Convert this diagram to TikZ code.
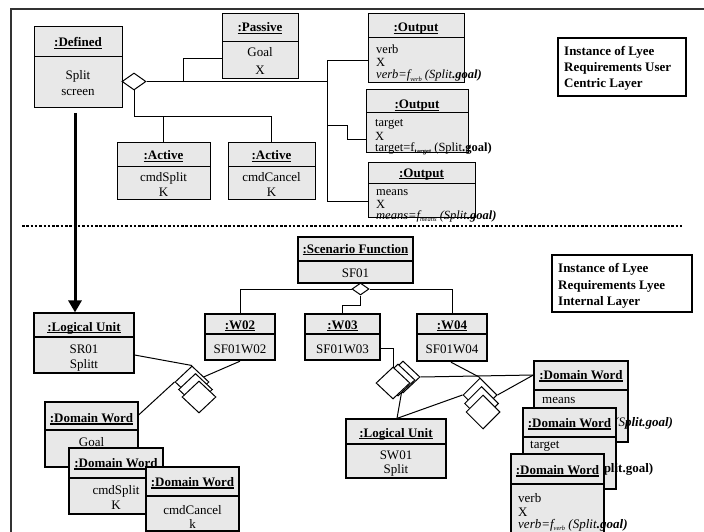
\documentclass[tikz,border=0pt]{standalone}
\usepackage{fontspec}
\setmainfont{Liberation Serif}
\usetikzlibrary{shapes.geometric,arrows.meta,fit,backgrounds}
\definecolor{boxgray}{RGB}{232,232,232}
\newcommand{\uln}[1]{\setbox0=\hbox{#1}\rlap{\rule[-2.2pt]{\wd0}{0.8pt}}\box0}
\newcommand{\thul}[1]{\setbox0=\hbox{#1}\rlap{\rule[-3pt]{\wd0}{1.6pt}}\box0}
\newcommand{\subs}[1]{\raisebox{-2.5pt}{\fontsize{6.5}{7}\selectfont #1}}
\newcommand{\objbox}[9]{%
  \node[#1, fit={(#3,#4) (#5,#6)}] (#2) {};
  \draw[#1 div] (#3,#7) -- (#5,#7);
  \node[ttl] (#2-t) at ({(#3+#5)/2},#8) {#9};
}
\tikzset{
  plainbox/.style={draw, fill=boxgray, line width=1pt, inner sep=0pt},
  plainbox div/.style={line width=1pt},
  lubox/.style={draw, fill=boxgray, line width=1.2pt, inner sep=0pt},
  lubox div/.style={line width=1.6pt},
  boldbox/.style={draw, fill=boxgray, line width=2.4pt, inner sep=0pt},
  boldbox div/.style={line width=2.8pt},
  dwbox/.style={draw, fill=boxgray, line width=1.2pt, inner sep=0pt},
  dwbox div/.style={line width=2pt},
  ttl/.style={inner sep=0pt, anchor=base, font=\fontsize{13}{15}\selectfont\bfseries},
  txt/.style={inner sep=0pt, anchor=base, font=\fontsize{13}{15}\selectfont},
  ltxt/.style={txt, anchor=base west},
  stxt/.style={inner sep=0pt, anchor=base west, font=\fontsize{12.5}{14}\selectfont},
  lbl/.style={draw, fill=white, line width=1.2pt, inner sep=0pt},
  lbltxt/.style={inner sep=0pt, anchor=base west, font=\fontsize{13}{15}\selectfont\bfseries},
  conn/.style={line width=1pt},
  dia/.style={diamond, draw, fill=white, line width=1pt, inner sep=0pt},
}
\begin{document}
\begin{tikzpicture}[x=1pt,y=-1pt]
\useasboundingbox (0,0) rectangle (704,532);

% ---------- upper layer ----------
\objbox{plainbox}{defd}{34}{27}{122}{108}{57}{47}{\uln{:Defined}}
\node[txt] (defd-b1) at (78,80) {Split};
\node[txt] (defd-b2) at (78,96) {screen};

\objbox{plainbox}{pas}{222}{14}{298}{79}{42}{32}{\uln{:Passive}}
\node[txt] (pas-b1) at (260,57) {Goal};
\node[txt] (pas-b2) at (260,75) {X};

\objbox{plainbox}{out1}{368}{14}{464}{83}{38}{32}{\uln{:Output}}
\node[stxt] (out1-b1) at (376,54) {verb};
\node[stxt] (out1-b2) at (376,67) {X};
\node[stxt] (out1-b3) at (376,79) {\textit{verb=f\subs{verb} (Split}\textbf{\textit{.goal)}}};

\objbox{plainbox}{out2}{366}{90}{468}{153}{113}{109}{\uln{:Output}}
\node[stxt] (out2-b1) at (375,127) {target};
\node[stxt] (out2-b2) at (375,140) {X};
\node[stxt] (out2-b3) at (375,151) {target=f\subs{\textbf{target}} (Split\textbf{.goal)}};

\objbox{plainbox}{out3}{368}{162}{475}{217}{183}{177}{\uln{:Output}}
\node[stxt] (out3-b1) at (376,195) {means};
\node[stxt] (out3-b2) at (376,208) {X};
\node[stxt] (out3-b3) at (376,219) {\textit{means=f\subs{means} (Split}\textbf{\textit{.goal)}}};

\objbox{plainbox}{act1}{117}{143}{210}{199}{166}{160}{\uln{:Active}}
\node[txt] (act1-b1) at (163.5,181) {cmdSplit};
\node[txt] (act1-b2) at (163.5,196) {K};

\objbox{plainbox}{act2}{228}{143}{315}{199}{166}{160}{\uln{:Active}}
\node[txt] (act2-b1) at (271.5,181) {cmdCancel};
\node[txt] (act2-b2) at (271.5,196) {K};

\node[lbl, fit={(558,38) (686,96)}] (lab1) {};
\node[lbltxt] (lab1-a) at (564,56) {Instance of Lyee};
\node[lbltxt] (lab1-b) at (564,72) {Requirements User};
\node[lbltxt] (lab1-c) at (564,88) {Centric Layer};

\node[dia, minimum width=24pt, minimum height=17pt] (dd) at (134,81.5) {};

% ---------- lower layer ----------
\objbox{boldbox}{sf}{298}{237}{413}{283}{261}{253}{\uln{:Scenario Function}}
\node[txt] (sf-b1) at (355.5,277) {SF01};

\objbox{boldbox}{w02}{205}{314}{275}{360}{334}{329}{\uln{:W02}}
\node[txt] (w02-b1) at (240,353) {SF01W02};
\objbox{boldbox}{w03}{305}{314}{380}{360}{334}{329}{\uln{:W03}}
\node[txt] (w03-b1) at (342.5,353) {SF01W03};
\objbox{boldbox}{w04}{417}{314}{487}{361}{334}{329}{\uln{:W04}}
\node[txt] (w04-b1) at (452,353) {SF01W04};

\node[dia, minimum width=17pt, minimum height=12pt] (sfd) at (360.5,289) {};

\node[lbl, fit={(552,255) (692,312)}] (lab2) {};
\node[lbltxt] (lab2-a) at (558,272) {Instance of Lyee};
\node[lbltxt] (lab2-b) at (558,289) {Requirements Lyee};
\node[lbltxt] (lab2-c) at (558,305) {Internal Layer};

\objbox{lubox}{lu1}{34}{313}{134}{373}{337}{331}{\uln{:Logical Unit}}
\node[txt] (lu1-b1) at (84,353) {SR01};
\node[txt] (lu1-b2) at (84,368) {Splitt};

\objbox{lubox}{lu2}{346}{419}{446}{478}{444}{437}{\uln{:Logical Unit}}
\node[txt] (lu2-b1) at (396,459) {SW01};
\node[txt] (lu2-b2) at (396,473) {Split};

\objbox{dwbox}{dw1}{45}{402}{138}{467}{430}{422}{\thul{:Domain Word}}
\node[txt] (dw1-b1) at (91.5,446) {Goal};
\objbox{dwbox}{dw2}{69}{448}{163}{514}{478}{467}{\thul{:Domain Word}}
\node[txt] (dw2-b1) at (116,494) {cmdSplit};
\node[txt] (dw2-b2) at (116,509) {K};
\objbox{dwbox}{dw3}{146}{467}{239}{531}{496}{486}{\thul{:Domain Word}}
\node[txt] (dw3-b1) at (192.5,514) {cmdCancel};
\node[txt] (dw3-b2) at (192.5,528.5) {k};

\objbox{dwbox}{dwm}{534}{361}{628}{442}{390}{379}{\thul{:Domain Word}}
\node[ltxt] (dwm-b1) at (542,403) {means};
\node[ltxt] (dwm-b3) at (614,426) {\textit{(S}\textbf{\textit{plit.goal)}}};
\objbox{dwbox}{dwt}{523}{408}{616}{489}{437}{427}{\thul{:Domain Word}}
\node[ltxt] (dwt-b1) at (530,448) {target};
\node[ltxt] (dwt-b3) at (592,472) {(S\textbf{plit.goal)}};
\objbox{dwbox}{dwv}{511}{454}{604}{540}{484}{474}{\thul{:Domain Word}}
\node[ltxt] (dwv-b1) at (518,502) {verb};
\node[ltxt] (dwv-b2) at (518,516) {X};
\node[ltxt] (dwv-b3) at (518,528) {\textit{verb=f\subs{verb} (Split}\textbf{\textit{.goal)}}};

% aggregation diamond clusters
\node[dia, minimum width=34pt, minimum height=32pt] (ca1) at (192,382) {};
\node[dia, minimum width=34pt, minimum height=32pt] (ca2) at (195.5,389.5) {};
\node[dia, minimum width=34pt, minimum height=32pt] (ca3) at (199,397) {};

\node[dia, minimum width=34pt, minimum height=32pt] (cb1) at (403,377) {};
\node[dia, minimum width=34pt, minimum height=32pt] (cb2) at (398,380) {};
\node[dia, minimum width=34pt, minimum height=32pt] (cb3) at (393,383) {};

\node[dia, minimum width=34pt, minimum height=34pt] (cc1) at (480,395) {};
\node[dia, minimum width=34pt, minimum height=34pt] (cc2) at (481.5,403.5) {};
\node[dia, minimum width=34pt, minimum height=34pt] (cc3) at (483,412) {};

% ---------- connectors (behind) ----------
\begin{pgfonlayer}{background}
\coordinate (frTL) at (11,9);
\coordinate (frTR) at (704,9);
\coordinate (frBL) at (11,532);
\draw[line width=1.5pt, black!80] (frTR) -- (frTL) -- (frBL);
\coordinate (dotL) at (22,226);
\coordinate (dotR) at (682,226);
\draw[line width=2pt, dash pattern=on 2.5pt off 1.8pt] (dotL) -- (dotR);

\draw[conn] (dd.east) -- (327,81.5) -- (327,61) -- (out1.west |- 0,61);
\draw[conn] (327,61) -- (327,201) -- (out3.west |- 0,201);
\draw[conn] (327,126) -- (347,126) -- (347,140) -- (out2.west |- 0,140);
\draw[conn] (183,81.5) -- (183,59) -- (pas.west |- 0,59);
\draw[conn] (dd.south) |- (act2.north |- 0,117) -- (act2.north);
\draw[conn] (act1.north) -- (act1.north |- 0,117);

\coordinate (arrS) at (75,113);
\draw[line width=3pt, -{Triangle[width=13pt,length=12pt]}] (arrS) -- (lu1.north -| arrS);

\draw[conn] (sfd.west) -| (w02.north);
\draw[conn] (sfd.east) -| (w04.north);
\draw[conn] (sfd.south) -- (360.5,305) -| (w03.north);

\draw[conn] (lu1.east |- 0,355) -- (ca1.north);
\draw[conn] (w02.south) -- (ca1.center);
\draw[conn] (dw1.east |- 0,415) -- (ca1.west);

\draw[conn] (w03.east |- 0,348) -| (cb3.north);
\draw[conn] (cb1.east) -- (dwm.west |- 0,375);
\draw[conn] (cb3.south east) -- (lu2.north -| 397,0);
\draw[conn] (lu2.north -| 397,0) -- (cc1.west);
\draw[conn] (w04.south -| 451,0) -- (cc1.north);
\draw[conn] (cc1.east) -- (dwm.west |- 0,375);
\end{pgfonlayer}
\end{tikzpicture}
\end{document}
